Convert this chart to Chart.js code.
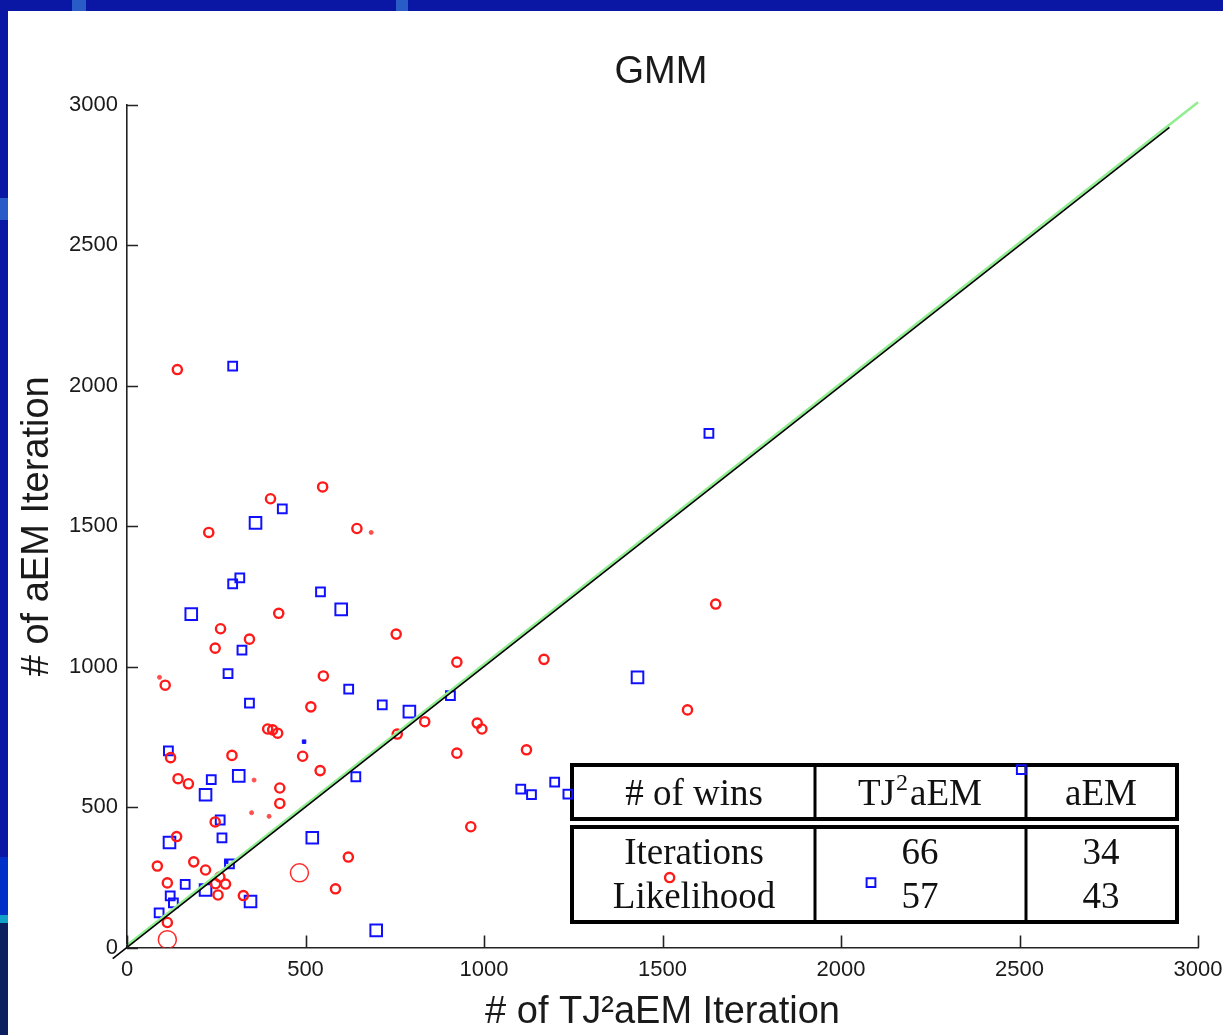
<!DOCTYPE html>
<html>
<head>
<meta charset="utf-8">
<title>GMM</title>
<script src="https://cdn.jsdelivr.net/npm/chart.js@4/dist/chart.umd.min.js"></script>
<style>
  body { margin: 0; overflow: hidden; background: #0a16a4; }
  #wrap { position: relative; width: 1223px; height: 1035px; }
</style>
</head>
<body>
<div id="wrap"><canvas id="chart"></canvas></div>
<script>
// TJ2aEM wins on iterations (red circles)
let redX = [141, 402, 548, 644, 229, 425, 262, 343, 247, 754, 107, 550, 924, 1168, 1649, 1570, 515, 394, 408, 422, 834, 757, 981, 994, 924, 294, 492, 122, 541, 143, 172, 428, 428, 963, 247, 139, 85, 187, 220, 620, 113, 260, 248, 276, 255, 326, 584, 113, 1119, 1520];
let redY = [2058, 1598, 1640, 1492, 1478, 1190, 1135, 1098, 1066, 1116, 934, 967, 1016, 1026, 1223, 846, 857, 778, 775, 763, 804, 760, 799, 778, 692, 684, 681, 676, 630, 601, 583, 568, 513, 430, 447, 395, 290, 305, 276, 322, 230, 251, 227, 226, 187, 185, 209, 89, 704, 249];
let bigRedX = [483, 113];
let bigRedY = [266, 28];
let smallRedX = [684, 91, 356, 349, 398];
let smallRedY = [1478, 962, 596, 480, 467];

// blue squares
let blueX = [296, 435, 296, 316, 542, 322, 283, 343, 621, 715, 906, 116, 236, 641, 261, 266, 287, 163, 121, 130, 90, 1630, 1103, 1133, 1198, 1235, 2505, 2084];
let blueY = [2070, 1562, 1295, 1316, 1266, 1059, 975, 870, 920, 864, 897, 700, 598, 608, 454, 390, 298, 225, 184, 159, 123, 1831, 564, 544, 589, 546, 633, 231];
let bigBlueX = [360, 600, 180, 791, 313, 220, 119, 519, 220, 346, 698, 1430];
let bigBlueY = [1512, 1204, 1187, 840, 611, 544, 374, 391, 205, 164, 61, 962];
let tinyBlueX = [496, 278];
let tinyBlueY = [733, 305];

// y = x reference lines
let blackLineX = [-40, 2920];
let blackLineY = [-40, 2920];
let greenLineX = [0, 3000];
let greenLineY = [8, 3010];

let xTicks = [0, 500, 1000, 1500, 2000, 2500, 3000];
let yTicks = [0, 500, 1000, 1500, 2000, 2500, 3000];
let xTickLabels = ["0", "500", "1000", "1500", "2000", "2500", "3000"];
let yTickLabels = ["0", "500", "1000", "1500", "2000", "2500", "3000"];

let tableHead = ["# of wins", "TJ2aEM", "aEM"];
let tableRows = ["Iterations", "Likelihood"];
let tj2aemWins = [66, 57];
let aemWins = [34, 43];

function pts(xs, ys) {
  let out = [];
  for (let i = 0; i < xs.length; i++) out.push({ x: xs[i], y: ys[i] });
  return out;
}

let slideBackground = {
  id: "slideBackground",
  beforeDraw: function (chart) {
    let ctx = chart.ctx;
    ctx.save();
    ctx.fillStyle = "#0a16a4";
    ctx.fillRect(0, 0, chart.width, chart.height);
    ctx.fillStyle = "#2a5cc8";
    ctx.fillRect(72, 0, 14, 11);
    ctx.fillRect(396, 0, 12, 11);
    ctx.fillRect(0, 198, 8, 22);
    ctx.fillStyle = "#0030c8";
    ctx.fillRect(0, 857, 8, 60);
    ctx.fillStyle = "#10a0c8";
    ctx.fillRect(0, 915, 8, 8);
    ctx.fillStyle = "#0c2060";
    ctx.fillRect(0, 923, 8, 112);
    ctx.fillStyle = "#ffffff";
    ctx.fillRect(8, 11, chart.width - 8, chart.height - 11);

    ctx.fillStyle = "#1a1a1a";
    ctx.font = "38px 'Liberation Sans', Arial, sans-serif";
    ctx.textAlign = "center";
    ctx.textBaseline = "alphabetic";
    ctx.fillText("GMM", 661, 83);
    ctx.restore();
  }
};

function cellText(ctx, text, x, y) {
  if (text === "TJ2aEM") {
    let big = "37px 'Liberation Serif', 'Times New Roman', serif";
    let small = "24px 'Liberation Serif', 'Times New Roman', serif";
    ctx.font = big;
    let w1 = ctx.measureText("TJ").width;
    let w3 = ctx.measureText("aEM").width;
    ctx.font = small;
    let w2 = ctx.measureText("2").width + 3;
    let left = x - (w1 + w2 + w3) / 2;
    ctx.textAlign = "left";
    ctx.font = big;
    ctx.fillText("TJ", left, y);
    ctx.font = small;
    ctx.fillText("2", left + w1 + 1, y - 15);
    ctx.font = big;
    ctx.fillText("aEM", left + w1 + w2, y);
    ctx.textAlign = "center";
    return;
  }
  ctx.fillText(text, x, y);
}

let winsTable = {
  id: "winsTable",
  beforeDatasetsDraw: function (chart) {
    let ctx = chart.ctx;
    let cols = [572, 815, 1026, 1177];
    let mids = [694, 920, 1101];
    ctx.save();
    ctx.fillStyle = "#ffffff";
    ctx.strokeStyle = "#000000";
    ctx.lineWidth = 4;
    ctx.fillRect(572, 765, 605, 54);
    ctx.fillRect(572, 827, 605, 95);
    ctx.strokeRect(572, 765, 605, 54);
    ctx.strokeRect(572, 827, 605, 95);
    ctx.lineWidth = 3;
    ctx.beginPath();
    for (let i = 1; i < 3; i++) {
      ctx.moveTo(cols[i], 765);
      ctx.lineTo(cols[i], 819);
      ctx.moveTo(cols[i], 827);
      ctx.lineTo(cols[i], 922);
    }
    ctx.stroke();

    ctx.fillStyle = "#111111";
    ctx.font = "37px 'Liberation Serif', 'Times New Roman', serif";
    ctx.textAlign = "center";
    ctx.textBaseline = "alphabetic";
    for (let i = 0; i < tableHead.length; i++) {
      cellText(ctx, tableHead[i], mids[i], 805);
    }
    let rowY = [864, 908];
    for (let r = 0; r < tableRows.length; r++) {
      ctx.font = "37px 'Liberation Serif', 'Times New Roman', serif";
      ctx.fillText(tableRows[r], mids[0], rowY[r]);
      ctx.fillText(String(tj2aemWins[r]), mids[1], rowY[r]);
      ctx.fillText(String(aemWins[r]), mids[2], rowY[r]);
    }
    ctx.restore();
  }
};

let innerTicks = {
  id: "innerTicks",
  afterDraw: function (chart) {
    let ctx = chart.ctx;
    let xs = chart.scales.x;
    let ys = chart.scales.y;
    ctx.save();
    ctx.strokeStyle = "#222222";
    ctx.lineWidth = 1.6;
    ctx.beginPath();
    for (let i = 0; i < xs.ticks.length; i++) {
      let px = Math.round(xs.getPixelForValue(xs.ticks[i].value)) + 0.5;
      ctx.moveTo(px, ys.bottom);
      ctx.lineTo(px, ys.bottom - 12);
    }
    for (let i = 0; i < ys.ticks.length; i++) {
      let py = Math.round(ys.getPixelForValue(ys.ticks[i].value)) + 0.5;
      ctx.moveTo(xs.left, py);
      ctx.lineTo(xs.left + 11, py);
    }
    ctx.stroke();
    ctx.restore();
  }
};

let tickFont = { family: "'Liberation Sans', Arial, sans-serif", size: 22 };
let titleFont = { family: "'Liberation Sans', Arial, sans-serif", size: 38 };

new Chart(document.getElementById("chart"), {
  type: "scatter",
  data: {
    datasets: [
      {
        data: pts(blackLineX, blackLineY),
        showLine: true,
        borderColor: "#000000",
        borderWidth: 1.6,
        pointRadius: 0,
        clip: false
      },
      {
        data: pts(greenLineX, greenLineY),
        showLine: true,
        borderColor: "#90ee90",
        borderWidth: 2.5,
        pointRadius: 0,
        clip: false
      },
      {
        data: pts(redX, redY),
        pointStyle: "circle",
        pointRadius: 4.6,
        borderWidth: 2.4,
        borderColor: "#ff1a1a",
        backgroundColor: "rgba(0,0,0,0)"
      },
      {
        data: pts(bigRedX, bigRedY),
        pointStyle: "circle",
        pointRadius: 9,
        borderWidth: 1.5,
        borderColor: "#ff2a2a",
        backgroundColor: "rgba(0,0,0,0)"
      },
      {
        data: pts(smallRedX, smallRedY),
        pointStyle: "circle",
        pointRadius: 2,
        borderWidth: 1,
        borderColor: "#ff5050",
        backgroundColor: "#ff5050"
      },
      {
        data: pts(blueX, blueY),
        pointStyle: "rect",
        pointRadius: 6.2,
        borderWidth: 2,
        borderColor: "#1010ff",
        backgroundColor: "rgba(0,0,0,0)"
      },
      {
        data: pts(bigBlueX, bigBlueY),
        pointStyle: "rect",
        pointRadius: 8.2,
        borderWidth: 2,
        borderColor: "#1010ff",
        backgroundColor: "rgba(0,0,0,0)"
      },
      {
        data: pts(tinyBlueX, tinyBlueY),
        pointStyle: "rect",
        pointRadius: 2.5,
        borderWidth: 1,
        borderColor: "#1010ff",
        backgroundColor: "#1010ff"
      }
    ]
  },
  options: {
    responsive: true,
    maintainAspectRatio: false,
    animation: false,
    events: [],
    layout: { padding: { left: 0, top: 105, right: 25, bottom: 0 } },
    plugins: {
      legend: { display: false },
      tooltip: { enabled: false }
    },
    scales: {
      x: {
        type: "linear",
        min: 0,
        max: 3000,
        afterBuildTicks: function (s) {
          s.ticks = xTicks.map(function (v) { return { value: v }; });
        },
        afterFit: function (s) {
          s.height = 87.5;
          s.paddingLeft = 0;
          s.paddingRight = 0;
        },
        grid: { display: false, drawTicks: false },
        border: { display: true, color: "#222222", width: 1.6 },
        ticks: {
          color: "#1a1a1a",
          font: tickFont,
          padding: 9,
          maxRotation: 0,
          callback: function (v, i) { return xTickLabels[i]; }
        },
        title: {
          display: true,
          text: "# of TJ\u00b2aEM Iteration",
          color: "#1a1a1a",
          font: titleFont,
          padding: { top: 0, bottom: 0 }
        }
      },
      y: {
        type: "linear",
        min: 0,
        max: 3000,
        afterBuildTicks: function (s) {
          s.ticks = yTicks.map(function (v) { return { value: v }; });
        },
        afterFit: function (s) {
          s.width = 127;
          s.paddingTop = 0;
          s.paddingBottom = 0;
        },
        grid: { display: false, drawTicks: false },
        border: { display: true, color: "#222222", width: 1.6 },
        ticks: {
          color: "#1a1a1a",
          font: tickFont,
          padding: 9,
          callback: function (v, i) { return yTickLabels[i]; }
        },
        title: {
          display: true,
          text: "# of aEM Iteration",
          color: "#1a1a1a",
          font: titleFont,
          padding: { top: 15, bottom: 0 }
        }
      }
    }
  },
  plugins: [slideBackground, winsTable, innerTicks]
});
</script>
</body>
</html>
